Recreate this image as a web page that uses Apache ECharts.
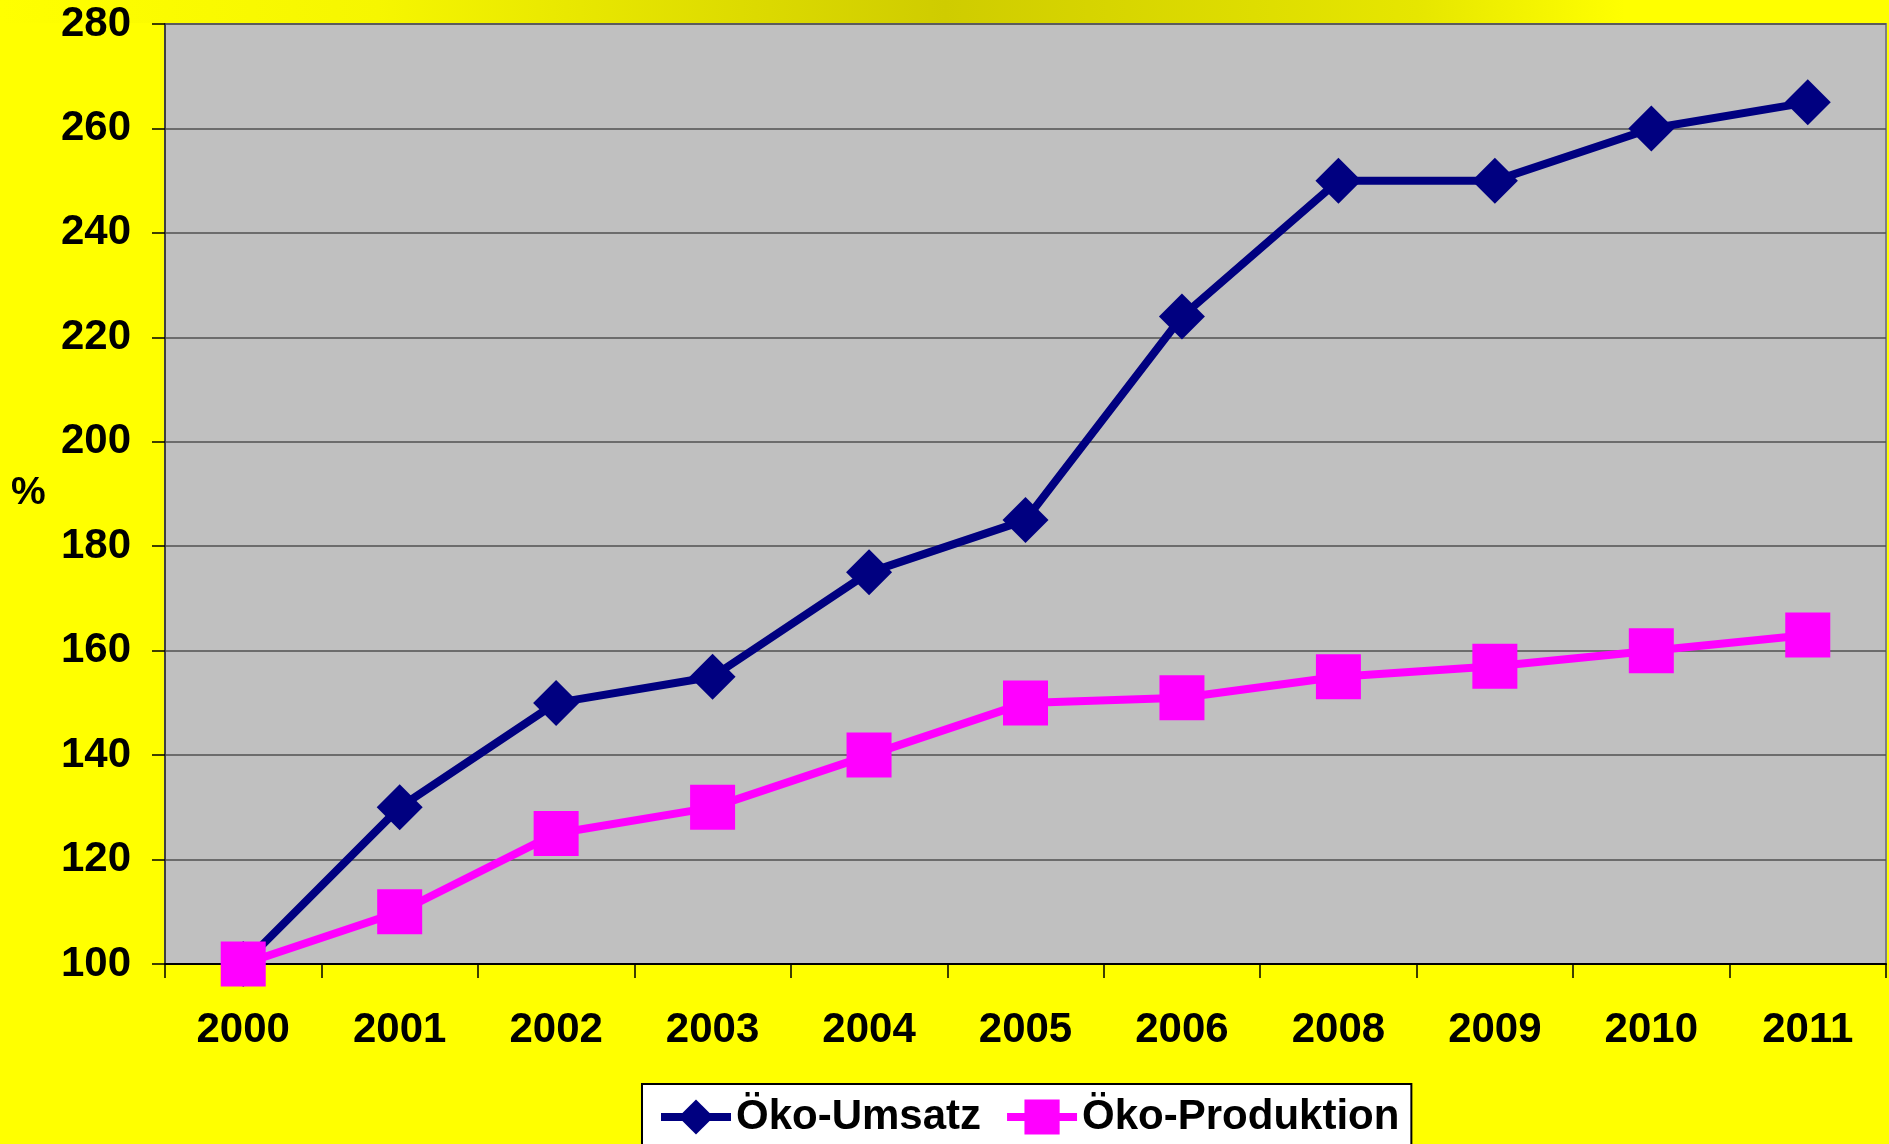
<!DOCTYPE html>
<html>
  <head>
    <meta charset="utf-8" />
    <title>Öko-Umsatz / Öko-Produktion</title>
    <script src="https://cdn.jsdelivr.net/npm/echarts@6.0.0/dist/echarts.min.js"></script>
    <style>
      html, body { margin: 0; padding: 0; background: #ffff00; }
    </style>
  </head>
  <body>
    <div id="chartContainer" style="width: 1889px;height:1144px;"></div>
    <script>
        // Daten (Index, 2000 = 100)
        var jahre = ['2000', '2001', '2002', '2003', '2004', '2005', '2006', '2008', '2009', '2010', '2011'];
        var umsatz = [100, 130, 150, 155, 175, 185, 224, 250, 250, 260, 265];
        var produktion = [100, 110, 125, 130, 140, 150, 151, 155, 157, 160, 163];

        var myChart = echarts.init(document.getElementById('chartContainer'));
        var font = '"Liberation Sans", Arial, sans-serif';

        var option = {
          animation: false,
          backgroundColor: '#ffff00',
          graphic: [
            {
              // dunklerer Streifen oben
              type: 'rect',
              left: 0,
              top: 0,
              shape: { width: 1889, height: 23 },
              style: {
                fill: new echarts.graphic.LinearGradient(0, 0, 1, 0, [
                  { offset: 0, color: '#ffff00' },
                  { offset: 0.2, color: '#f6f600' },
                  { offset: 0.5, color: '#cfcc00' },
                  { offset: 0.75, color: '#e6e600' },
                  { offset: 0.86, color: '#ffff00' },
                  { offset: 1, color: '#ffff00' }
                ])
              },
              z: -1
            },
            {
              type: 'text',
              left: 11,
              top: 474,
              style: {
                text: '%',
                fill: '#000',
                font: 'bold 39px ' + font
              }
            }
          ],
          grid: {
            left: 165,
            right: 3,
            top: 24,
            bottom: 180,
            show: true,
            backgroundColor: '#c0c0c0',
            borderColor: '#808080',
            borderWidth: 2
          },
          legend: {
            data: ['Öko-Umsatz', 'Öko-Produktion'],
            left: 642,
            top: 1084,
            padding: [12, 12, 30, 15],
            itemGap: 22,
            itemWidth: 70,
            itemHeight: 44,
            backgroundColor: '#ffffff',
            borderColor: '#000000',
            borderWidth: 2,
            lineStyle: { width: 8 },
            textStyle: {
              fontFamily: font,
              fontWeight: 'bold',
              fontSize: 42,
              color: '#000'
            }
          },
          xAxis: {
            type: 'category',
            data: jahre,
            boundaryGap: true,
            axisLine: { lineStyle: { color: '#000', width: 2 } },
            axisTick: { show: true, length: 14, lineStyle: { color: '#000', width: 1.5 } },
            axisLabel: {
              margin: 45,
              fontFamily: font,
              fontWeight: 'bold',
              fontSize: 42,
              color: '#000'
            },
            splitLine: { show: false }
          },
          yAxis: {
            type: 'value',
            min: 100,
            max: 280,
            interval: 20,
            axisLine: { show: true, lineStyle: { color: '#404040', width: 2 } },
            axisTick: { show: true, length: 13, lineStyle: { color: '#000', width: 1.5 } },
            axisLabel: {
              margin: 34,
              fontFamily: font,
              fontWeight: 'bold',
              fontSize: 42,
              color: '#000'
            },
            splitLine: { show: true, lineStyle: { color: '#505050', width: 1.5 } }
          },
          series: [
            {
              name: 'Öko-Umsatz',
              type: 'line',
              data: umsatz,
              symbol: 'diamond',
              symbolSize: 46,
              itemStyle: { color: '#000080' },
              lineStyle: { color: '#000080', width: 8 }
            },
            {
              name: 'Öko-Produktion',
              type: 'line',
              data: produktion,
              symbol: 'rect',
              symbolSize: 45,
              itemStyle: { color: '#ff00ff' },
              lineStyle: { color: '#ff00ff', width: 8 }
            }
          ]
        };

        myChart.setOption(option);
    </script>
  </body>
</html>
